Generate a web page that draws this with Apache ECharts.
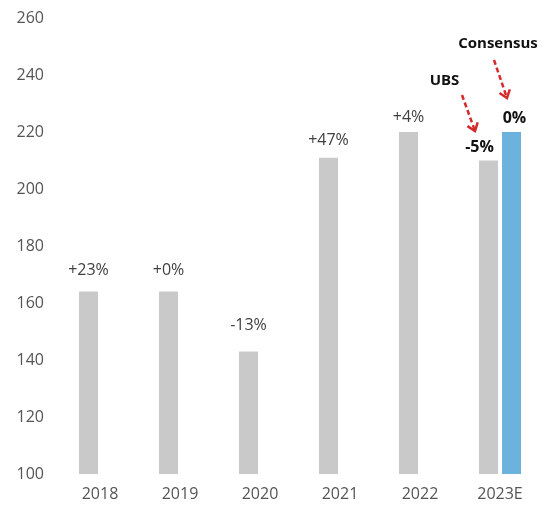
<!DOCTYPE html>
<html>
<head>
<meta charset="utf-8">
<script src="https://cdn.jsdelivr.net/npm/echarts@6/dist/echarts.min.js"></script>
<style>
html,body{margin:0;padding:0;background:#fff;}
#c{width:548px;height:506px;}
</style>
</head>
<body>
<div id="c"></div>
<script>
const categories = ['2018', '2019', '2020', '2021', '2022', '2023E'];
const actualValues = [164, 164, 143, 211, 220, 210];
const consensusValues = [null, null, null, null, null, 220];
const actualLabels = ['+23%', '+0%', '-13%', '+47%', '+4%', '-5%'];
const consensusLabels = ['', '', '', '', '', '0%'];
const yTicks = [100, 120, 140, 160, 180, 200, 220, 240, 260];

const FONT = '"Open Sans", "DejaVu Sans", sans-serif';
const labelDist = [13, 13, 18, 9, 7, 5];

const chart = echarts.init(document.getElementById('c'), null, {renderer: 'canvas'});

const grayData = actualValues.map((v, i) => {
  const last = i === actualValues.length - 1;
  return {
    value: v,
    label: {
      show: true,
      position: 'top',
      distance: labelDist[i],
      formatter: actualLabels[i],
      color: last ? '#111' : '#404040',
      fontWeight: last ? 'bold' : 'normal',
      offset: last ? [-9, 0] : [0, 0]
    }
  };
});
const blueData = consensusValues.map((v, i) => ({
  value: v,
  label: {
    show: v != null,
    position: 'top',
    distance: 6,
    offset: [3, 0],
    formatter: consensusLabels[i],
    color: '#111',
    fontWeight: 'bold'
  }
}));

chart.setOption({
  animation: false,
  backgroundColor: '#fff',
  textStyle: {fontFamily: FONT},
  grid: {left: 60, right: 8, top: 18, bottom: 32},
  xAxis: {
    type: 'category',
    data: categories,
    axisLine: {show: false},
    axisTick: {show: false},
    axisLabel: {color: '#555', fontSize: 16, margin: 12, fontFamily: FONT}
  },
  yAxis: {
    type: 'value',
    min: yTicks[0],
    max: yTicks[yTicks.length - 1],
    interval: 20,
    splitLine: {show: false},
    axisLine: {show: false},
    axisTick: {show: false},
    axisLabel: {color: '#555', fontSize: 16, margin: 16, fontFamily: FONT}
  },
  series: [
    {
      type: 'bar',
      data: grayData,
      barWidth: 19,
      barGap: '21%',
      itemStyle: {color: '#c9c9c9'},
      label: {fontSize: 16, fontFamily: FONT}
    },
    {
      type: 'bar',
      data: blueData,
      barWidth: 19,
      itemStyle: {color: '#6bb2dc'},
      label: {fontSize: 16, fontFamily: FONT}
    }
  ]
});

// Annotations anchored on the 2023E category
const base = chart.convertToPixel({xAxisIndex: 0, yAxisIndex: 0}, ['2023E', 220]);
const cx = base[0];
const RED = '#d42a2a';
function arrow(x1, y1, x2, y2) {
  const ang = Math.atan2(y2 - y1, x2 - x1);
  const L = 9, spread = 0.65;
  const a1 = [x2 - L * Math.cos(ang - spread), y2 - L * Math.sin(ang - spread)];
  const a2 = [x2 - L * Math.cos(ang + spread), y2 - L * Math.sin(ang + spread)];
  return [
    {type: 'line', shape: {x1: x1, y1: y1, x2: x2, y2: y2},
     style: {stroke: RED, lineWidth: 2.5, lineDash: [5, 3]}},
    {type: 'polyline', shape: {points: [a1, [x2, y2], a2]},
     style: {stroke: RED, lineWidth: 2.5, fill: null}}
  ];
}
const elements = [
  {type: 'text', x: cx - 55.5, y: 81, style: {text: 'UBS', fill: '#111', font: 'bold 15px ' + FONT, textAlign: 'center', textVerticalAlign: 'middle'}},
  {type: 'text', x: cx - 2, y: 44, style: {text: 'Consensus', fill: '#111', font: 'bold 15px ' + FONT, textAlign: 'center', textVerticalAlign: 'middle'}}
].concat(arrow(cx - 38, 95, cx - 25, 131)).concat(arrow(cx - 6, 60, cx + 7, 98));
chart.setOption({graphic: elements});
</script>
</body>
</html>
